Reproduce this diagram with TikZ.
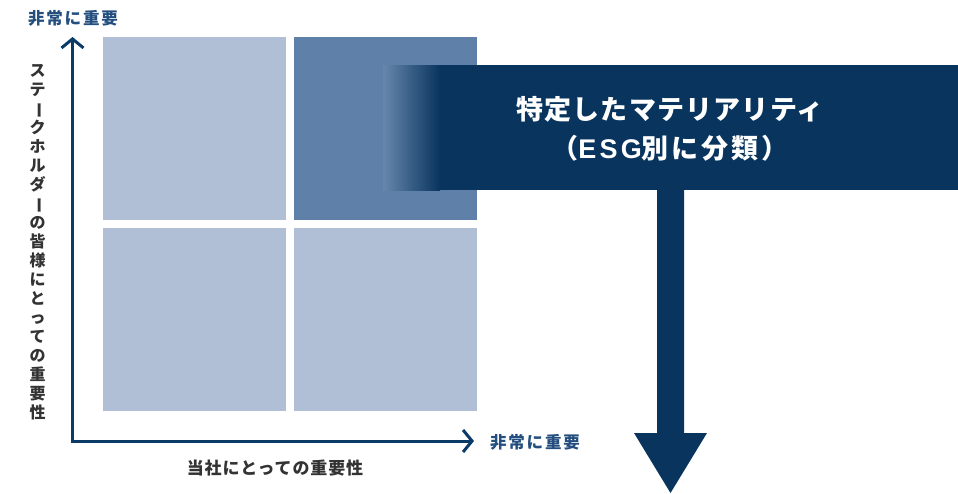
\documentclass[tikz,border=0pt]{standalone}
\usepackage{fontspec}
\usepackage{graphicx}
\usetikzlibrary{arrows.meta}
\newfontfamily\jp{Noto Sans CJK JP}
\newfontfamily\jpls[LetterSpace=11]{Noto Sans CJK JP}
\newfontfamily\jpmid[LetterSpace=5]{Noto Sans CJK JP}
\newfontfamily\jpti[LetterSpace=4.5]{Noto Sans CJK JP}
\newfontfamily\jptiw[LetterSpace=11]{Noto Sans CJK JP}
\newfontfamily\latw[LetterSpace=12]{Liberation Sans}
\definecolor{navy}{HTML}{08345E}
\definecolor{axisblue}{HTML}{0B3A66}
\definecolor{lightq}{HTML}{B0BFD5}
\definecolor{darkq}{HTML}{5F80A8}
\definecolor{labblue}{HTML}{234E7E}
\definecolor{labgray}{HTML}{333333}
\tikzset{
  quad/.style={fill=lightq, draw=none},
  axis/.style={draw=axisblue, line width=3pt, -{Straight Barb[length=9pt,width=22pt]}},
  bluelab/.style={font=\jpls\bfseries\fontsize{16.5}{17}\selectfont, text=labblue, inner sep=0pt},
  graylab/.style={font=\jpmid\bfseries\fontsize{17}{19}\selectfont, text=labgray, inner sep=0pt},
  vlab/.style={font=\jp\bfseries\fontsize{16}{19.0}\selectfont, text=labgray, inner sep=0pt, align=center},
  title/.style={font=\jpti\bfseries\fontsize{27}{38.5}\selectfont, text=white, inner sep=0pt, align=center}
}
\newcommand{\vbar}{\rotatebox[origin=c]{-90}{ー}}
\begin{document}
\begin{tikzpicture}[x=1pt,y=-1pt]
\useasboundingbox (0,0) rectangle (958,493);
% quadrants
\fill[lightq] (103,37) rectangle (286,220);
\fill[darkq] (293.5,37) rectangle (477,220);
\fill[lightq] (103,227.5) rectangle (286,410.5);
\fill[lightq] (293.5,227.5) rectangle (477,410.5);
% axes
\coordinate (o) at (72.5,441);
\coordinate (ytop) at (72.5,37);
\coordinate (xend) at (474,441);
\draw[axis] (o) -- (ytop);
\draw[axis] ([xshift=-1.5pt]o) -- (xend);
% labels
\node[bluelab] (ylab) at (73,18) {非常に重要};
\node[bluelab] (xlab) at (535,442) {非常に重要};
\node[graylab] (xtitle) at (275,468) {当社にとっての重要性};
\node[vlab] (ytitle) at (37.5,242.5) {ス\\テ\\\vbar\\ク\\ホ\\ル\\ダ\\\vbar\\の\\皆\\様\\に\\と\\っ\\て\\の\\重\\要\\性};
% banner
\shade[left color=darkq!95!white, right color=navy] (383,65) rectangle (440,190);
\fill[navy] (439.5,65) rectangle (958,190);
\node[title] (banner) at (670,129) {特定したマテリアリティ\\{\jptiw\bfseries （{\latw\bfseries ESG}別に分類）}};
% big arrow
\fill[navy] (657,189) -- (684,189) -- (684,433) -- (707,433) -- (670.5,493) -- (634,433) -- (657,433) -- cycle;
\end{tikzpicture}
\end{document}
